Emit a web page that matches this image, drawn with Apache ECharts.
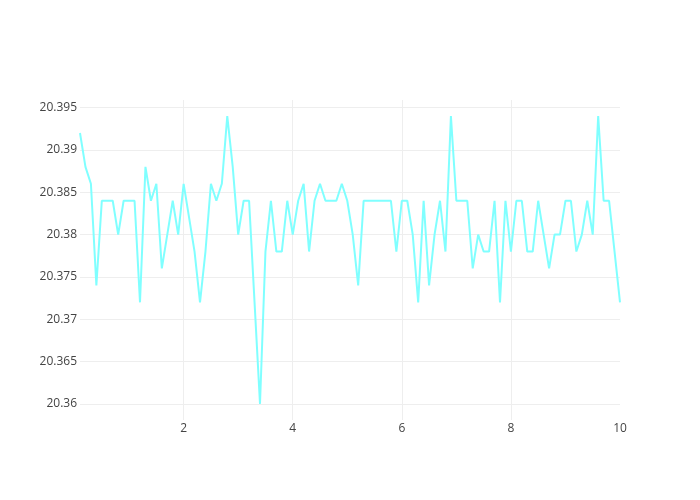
<!DOCTYPE html>
<html>
<head>
<meta charset="utf-8">
<script src="https://cdn.jsdelivr.net/npm/echarts@6/dist/echarts.min.js"></script>
<style>html,body{margin:0;padding:0;background:#fff;}#c{width:700px;height:500px;}</style>
</head>
<body>
<div id="c"></div>
<script>
const xValues = [0.1,0.2,0.3,0.4,0.5,0.6,0.7,0.8,0.9,1.0,
  1.1,1.2,1.3,1.4,1.5,1.6,1.7,1.8,1.9,2.0,
  2.1,2.2,2.3,2.4,2.5,2.6,2.7,2.8,2.9,3.0,
  3.1,3.2,3.3,3.4,3.5,3.6,3.7,3.8,3.9,4.0,
  4.1,4.2,4.3,4.4,4.5,4.6,4.7,4.8,4.9,5.0,
  5.1,5.2,5.3,5.4,5.5,5.6,5.7,5.8,5.9,6.0,
  6.1,6.2,6.3,6.4,6.5,6.6,6.7,6.8,6.9,7.0,
  7.1,7.2,7.3,7.4,7.5,7.6,7.7,7.8,7.9,8.0,
  8.1,8.2,8.3,8.4,8.5,8.6,8.7,8.8,8.9,9.0,
  9.1,9.2,9.3,9.4,9.5,9.6,9.7,9.8,9.9,10.0];
const yValues = [20.392,20.388,20.386,20.374,20.384,20.384,20.384,20.380,20.384,20.384,
  20.384,20.372,20.388,20.384,20.386,20.376,20.380,20.384,20.380,20.386,
  20.382,20.378,20.372,20.378,20.386,20.384,20.386,20.394,20.388,20.380,
  20.384,20.384,20.372,20.360,20.378,20.384,20.378,20.378,20.384,20.380,
  20.384,20.386,20.378,20.384,20.386,20.384,20.384,20.384,20.386,20.384,
  20.380,20.374,20.384,20.384,20.384,20.384,20.384,20.384,20.378,20.384,
  20.384,20.380,20.372,20.384,20.374,20.380,20.384,20.378,20.394,20.384,
  20.384,20.384,20.376,20.380,20.378,20.378,20.384,20.372,20.384,20.378,
  20.384,20.384,20.378,20.378,20.384,20.380,20.376,20.380,20.380,20.384,
  20.384,20.378,20.380,20.384,20.380,20.394,20.384,20.384,20.378,20.372];
const yTicks = [20.36,20.365,20.37,20.375,20.38,20.385,20.39,20.395];
const xTicks = [2,4,6,8,10];
const xGridTicks = [2,4,6,8];

const chart = echarts.init(document.getElementById('c'), null, {renderer:'canvas'});
const fontFamily = '"Open Sans", verdana, arial, sans-serif';
chart.setOption({
  animation: false,
  backgroundColor: '#fff',
  grid: {left: 80, right: 80, top: 100, bottom: 80, containLabel: false},
  xAxis: {
    type: 'value', min: 0.1, max: 10,
    axisLine: {show: false}, 
    axisTick: {show: false, customValues: xGridTicks},
    axisLabel: {customValues: xTicks, color: '#444', fontSize: 12, fontFamily: fontFamily, margin: 3,
      showMinLabel: true, showMaxLabel: true},
    splitLine: {show: true, lineStyle: {color: '#eee', width: 1}}
  },
  yAxis: {
    type: 'value', min: 20.3581, max: 20.3959,
    axisLine: {show: false},
    axisTick: {show: false, customValues: yTicks},
    axisLabel: {customValues: yTicks, color: '#444', fontSize: 12, fontFamily: fontFamily, margin: 3,
      formatter: v => String(Number(v.toFixed(3)))},
    splitLine: {show: true, lineStyle: {color: '#eee', width: 1}}
  },
  series: [{
    type: 'line',
    data: xValues.map((x, i) => [x, yValues[i]]),
    showSymbol: false,
    symbol: 'none',
    lineStyle: {color: '#80ffff', width: 2},
    itemStyle: {color: '#80ffff'}
  }]
});
</script>
</body>
</html>
